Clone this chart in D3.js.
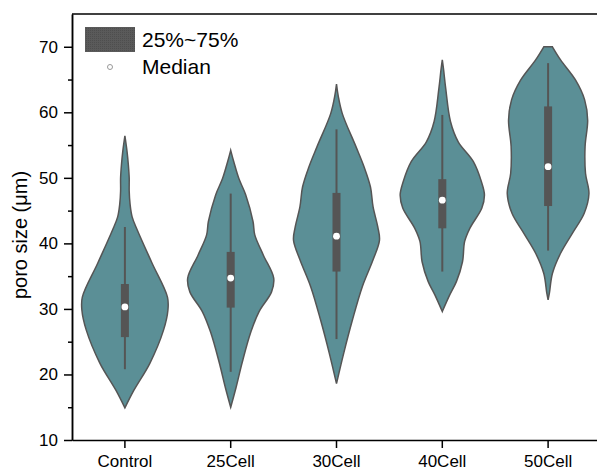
<!DOCTYPE html>
<html>
<head>
<meta charset="utf-8">
<script src="https://cdn.jsdelivr.net/npm/d3@7"></script>
<style>
    body { margin: 0; background: #fff; }
    text { font-family: "Liberation Sans", Arial, sans-serif; }
</style>
</head>
<body>
<div id="chart"></div>
<script>
// Categories and summary values
const categories = ["Control", "25Cell", "30Cell", "40Cell", "50Cell"];
const q1 = [25.7, 30.2, 35.7, 42.3, 45.7];
const q3 = [33.8, 38.7, 47.7, 49.8, 60.9];
const medians = [30.3, 34.7, 41.1, 46.6, 51.7];
const whiskerLow = [20.8, 20.4, 25.4, 35.7, 38.9];
const whiskerHigh = [42.5, 47.6, 57.4, 59.6, 67.5];

// Violin outlines: [value, relative density]
const densityControl = [[14.9, 0], [17.6, 0.21], [21.7, 0.58], [26.8, 0.9], [29.8, 1.0], [31.8, 0.99],
    [37, 0.63], [42, 0.29], [44, 0.17], [46, 0.12], [48, 0.1], [50, 0.1], [52, 0.08], [54, 0.05], [56.4, 0]];
const density25 = [[15, 0], [17.9, 0.12], [21.9, 0.27], [26.5, 0.47], [29.6, 0.66], [32.6, 0.95], [34.7, 1.0],
    [38.2, 0.76], [41.3, 0.56], [43.3, 0.52], [47.4, 0.35], [49.9, 0.19], [52.5, 0.07], [54.2, 0]];
const density30 = [[18.6, 0], [23.3, 0.17], [28.3, 0.37], [33.4, 0.6], [37.5, 0.85], [40.5, 1.0], [42.5, 0.96],
    [45.6, 0.85], [48.6, 0.79], [51.7, 0.64], [54.8, 0.45], [59.8, 0.135], [62.5, 0.04], [64.3, 0]];
const density40 = [[29.6, 0], [32.1, 0.17], [34.2, 0.33], [37.2, 0.47], [40.3, 0.52], [42.3, 0.64], [45.4, 0.92],
    [47.4, 0.98], [49.4, 0.91], [52.5, 0.72], [55.5, 0.37], [58.6, 0.19], [63.6, 0.08], [66.5, 0.03], [68, 0]];
const density50 = [[31.4, 0], [32.4, 0.03], [35.4, 0.1], [38.5, 0.29], [41.5, 0.56], [44.6, 0.84], [47.6, 0.95],
    [50.7, 0.87], [54.8, 0.86], [58.8, 0.92], [61.9, 0.85], [64.9, 0.64], [68, 0.29], [70, 0.1]];
const densities = [densityControl, density25, density30, density40, density50];

const yTicks = [10, 20, 30, 40, 50, 60, 70];
const yMinorTicks = [15, 25, 35, 45, 55, 65];

const margin = { top: 14, right: 0, bottom: 30, left: 72 };
const width = 529, height = 426;

const svg = d3.select("#chart").append("svg")
    .attr("width", 597)
    .attr("height", 470);

// texture for the legend box
const pattern = svg.append("defs").append("pattern")
    .attr("id", "dots")
    .attr("width", 2).attr("height", 2)
    .attr("patternUnits", "userSpaceOnUse");
pattern.append("rect").attr("width", 2).attr("height", 2).attr("fill", "#5a5a5a");
pattern.append("rect").attr("width", 1).attr("height", 1).attr("fill", "#4e4e4e");

const g = svg.append("g")
    .attr("transform", "translate(" + margin.left + "," + margin.top + ")");

// Scales
const x = d3.scaleBand().domain(categories).range([0, width]);
const y = d3.scaleLinear().domain([10, 75]).range([height, 0]);
const w = d3.scaleLinear().domain([0, 1]).range([0, 43]);

const data = categories.map((c, i) => ({
    name: c, density: densities[i], q1: q1[i], q3: q3[i],
    median: medians[i], lo: whiskerLow[i], hi: whiskerHigh[i]
}));

const area = d3.area()
    .curve(d3.curveCatmullRom.alpha(0.5))
    .y(d => y(d[0]))
    .x0(d => -w(d[1]))
    .x1(d => w(d[1]));

const violin = g.selectAll(".violin")
    .data(data)
    .enter().append("g")
    .attr("class", "violin")
    .attr("transform", d => "translate(" + (x(d.name) + x.bandwidth() / 2) + ",0)");

violin.append("path")
    .attr("d", d => area(d.density))
    .attr("fill", "#5b8f96")
    .attr("stroke", "#555")
    .attr("stroke-width", 1.5);

violin.append("line")
    .attr("y1", d => y(d.lo))
    .attr("y2", d => y(d.hi))
    .attr("stroke", "#555")
    .attr("stroke-width", 2);

violin.append("rect")
    .attr("x", -4)
    .attr("width", 8)
    .attr("y", d => y(d.q3))
    .attr("height", d => y(d.q1) - y(d.q3))
    .attr("fill", "#555");

violin.append("circle")
    .attr("r", 3.4)
    .attr("cy", d => y(d.median))
    .attr("fill", "#fff");

// Axes
const xAxis = d3.axisBottom(x).tickSize(8).tickSizeOuter(0).tickPadding(7);
const yAxis = d3.axisLeft(y).tickValues(yTicks).tickSize(8).tickSizeOuter(0).tickPadding(6);
const yMinor = d3.axisLeft(y).tickValues(yMinorTicks).tickSize(4).tickFormat("").tickSizeOuter(0);

g.append("g")
    .attr("class", "x-axis axis")
    .attr("transform", "translate(0," + height + ")")
    .call(xAxis);

g.append("g").attr("class", "y-axis axis").call(yAxis);
g.append("g").attr("class", "y-minor axis").call(yMinor);

g.append("line")
    .attr("x1", 0).attr("x2", width)
    .attr("y1", 0).attr("y2", 0)
    .attr("stroke", "#000")
    .attr("stroke-width", 1.5);

g.selectAll(".axis path, .axis line")
    .attr("stroke", "#000")
    .attr("stroke-width", 1.5);
g.selectAll(".axis text")
    .attr("font-size", 17)
    .attr("fill", "#000")
    .style("font-family", "'Liberation Sans', Arial, sans-serif");

// Axis title
svg.append("text")
    .attr("transform", "translate(27,235) rotate(-90)")
    .attr("text-anchor", "middle")
    .attr("font-size", 20)
    .text("poro size (μm)");

// Legend
svg.append("rect")
    .attr("x", 85).attr("y", 27)
    .attr("width", 50).attr("height", 25)
    .attr("fill", "url(#dots)");
svg.append("circle")
    .attr("cx", 110).attr("cy", 67).attr("r", 2.5)
    .attr("fill", "#fff")
    .attr("stroke", "#999");
svg.append("text").attr("x", 142).attr("y", 47).attr("font-size", 21).text("25%~75%");
svg.append("text").attr("x", 142).attr("y", 74).attr("font-size", 21).text("Median");
</script>
</body>
</html>
